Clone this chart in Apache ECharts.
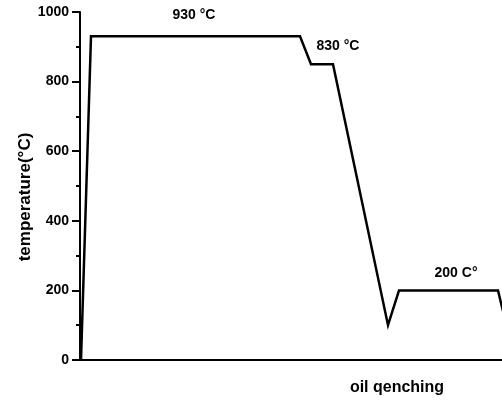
<!DOCTYPE html>
<html>
<head>
<meta charset="utf-8">
<script src="https://cdn.jsdelivr.net/npm/echarts@6/dist/echarts.min.js"></script>
<style>
  html, body { margin: 0; padding: 0; background: #fff; }
  #chart { width: 502px; height: 400px; }
</style>
</head>
<body>
<div id="chart"></div>
<script>
// Heat-treatment schedule: time (arbitrary units) vs temperature (°C)
const timeSteps = [1, 11, 220, 231, 253, 308, 319, 418, 423];
const temperatures = [0, 930, 930, 850, 850, 100, 200, 200, 140];
const yTicks = [0, 200, 400, 600, 800, 1000];

const stages = [
  { text: '930 °C', x: 194, y: 15 },
  { text: '830 °C', x: 338, y: 46 },
  { text: '200 C°', x: 456, y: 273 }
];

const fontFamily = 'Liberation Sans, Arial, Helvetica, sans-serif';

const chart = echarts.init(document.getElementById('chart'), null, { renderer: 'canvas' });

chart.setOption({
  animation: false,
  backgroundColor: '#ffffff',
  grid: { left: 80, right: 0, top: 12, bottom: 40, containLabel: false },
  xAxis: {
    type: 'value',
    min: 0,
    max: 422,
    axisLine: { show: true, onZero: false, lineStyle: { color: '#000', width: 2 } },
    axisTick: { show: false },
    axisLabel: { show: false },
    splitLine: { show: false }
  },
  yAxis: {
    type: 'value',
    min: yTicks[0],
    max: yTicks[yTicks.length - 1],
    interval: 200,
    axisLine: { show: true, lineStyle: { color: '#000', width: 2 } },
    axisTick: { show: true, inside: false, length: 8, lineStyle: { color: '#000', width: 2 } },
    minorTick: { show: true, splitNumber: 2, length: 4, lineStyle: { color: '#000', width: 2 } },
    axisLabel: {
      color: '#000', fontWeight: 'bold', fontSize: 14, fontFamily, margin: 11,
      formatter: v => String(v)
    },
    splitLine: { show: false }
  },
  series: [{
    type: 'line',
    data: timeSteps.map((t, i) => [t, temperatures[i]]),
    symbol: 'none',
    clip: true,
    lineStyle: { color: '#000', width: 2.5, join: 'miter' }
  }],
  graphic: stages.map(s => ({
    type: 'text',
    x: s.x,
    y: s.y,
    style: {
      text: s.text,
      fill: '#000',
      font: 'bold 14px ' + fontFamily,
      textAlign: 'center',
      textVerticalAlign: 'middle'
    }
  })).concat([
    {
      type: 'text',
      x: 397,
      y: 388,
      style: {
        text: 'oil qenching',
        fill: '#000',
        font: 'bold 16px ' + fontFamily,
        textAlign: 'center',
        textVerticalAlign: 'middle'
      }
    },
    {
      type: 'text',
      x: 25,
      y: 197,
      rotation: Math.PI / 2,
      style: {
        text: 'temperature(°C)',
        fill: '#000',
        font: 'bold 17px ' + fontFamily,
        textAlign: 'center',
        textVerticalAlign: 'middle'
      }
    }
  ])
});
</script>
</body>
</html>
